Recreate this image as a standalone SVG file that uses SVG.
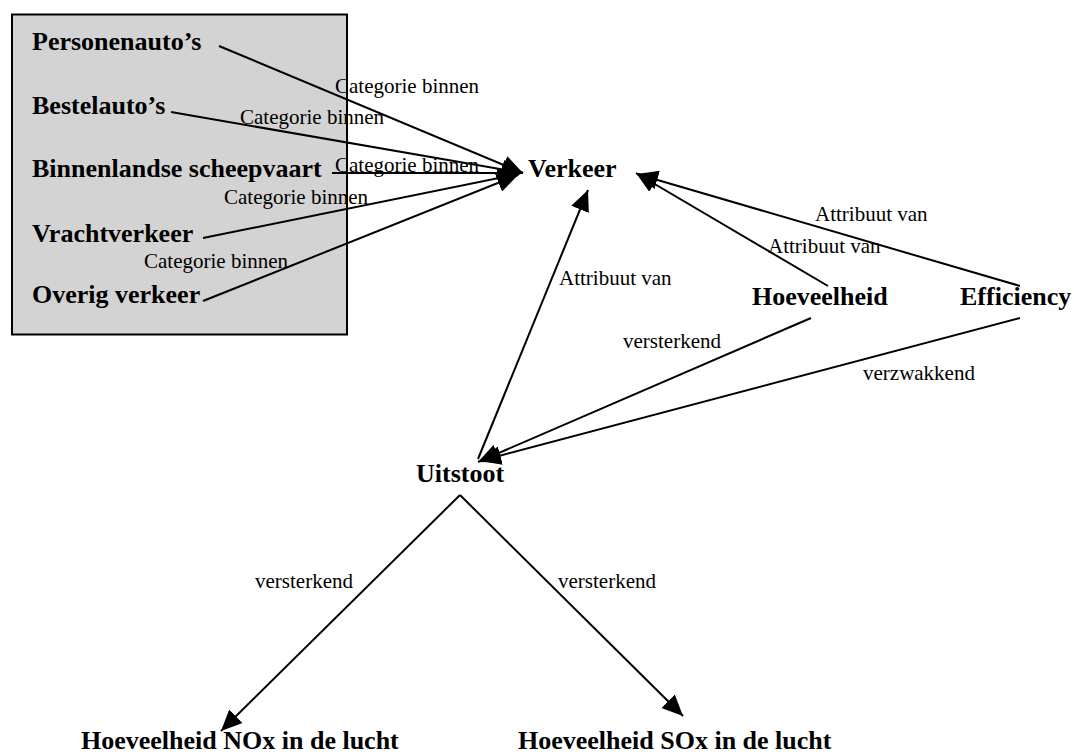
<svg xmlns="http://www.w3.org/2000/svg" width="1074" height="755" viewBox="0 0 1074 755">
  <style>
    .node { font-family: "Liberation Serif", "Times New Roman", serif; font-size: 26px; font-weight: bold; fill: #000; }
    .lbl { font-family: "Liberation Serif", "Times New Roman", serif; font-size: 21px; fill: #000; }
    .edge { stroke: #000; stroke-width: 2; fill: none; marker-end: url(#arrow); }
  </style>
  <defs>
    <marker id="arrow" markerUnits="userSpaceOnUse" markerWidth="21" markerHeight="19" refX="21" refY="9.5" orient="auto">
      <path d="M0,0 L21,9.5 L0,19 z" fill="#000"/>
    </marker>
  </defs>

  <rect width="1074" height="755" fill="#fff"/>

  <!-- grouping box for the traffic categories -->
  <g id="categories-box">
    <rect x="12" y="14.5" width="335" height="320" fill="#d3d3d3" stroke="#000" stroke-width="2"/>
  </g>

  <g id="personenautos"><text class="node" x="32" y="50">Personenauto’s</text></g>
  <g id="bestelautos"><text class="node" x="32" y="114">Bestelauto’s</text></g>
  <g id="binnenlandse-scheepvaart"><text class="node" x="32" y="177">Binnenlandse scheepvaart</text></g>
  <g id="vrachtverkeer"><text class="node" x="32" y="242">Vrachtverkeer</text></g>
  <g id="overig-verkeer"><text class="node" x="32" y="303">Overig verkeer</text></g>

  <g id="verkeer"><text class="node" x="528" y="177">Verkeer</text></g>
  <g id="hoeveelheid"><text class="node" x="752" y="305">Hoeveelheid</text></g>
  <g id="efficiency"><text class="node" x="960" y="305">Efficiency</text></g>
  <g id="uitstoot"><text class="node" x="416" y="482">Uitstoot</text></g>
  <g id="nox"><text class="node" x="81" y="749">Hoeveelheid NOx in de lucht</text></g>
  <g id="sox"><text class="node" x="518" y="749">Hoeveelheid SOx in de lucht</text></g>

  <g id="connectors">
    <!-- categories into Verkeer -->
    <line class="edge" x1="219" y1="46" x2="523" y2="173"/>
    <line class="edge" x1="171" y1="112" x2="523" y2="173"/>
    <line class="edge" x1="332" y1="173" x2="523" y2="173"/>
    <line class="edge" x1="203" y1="238" x2="519" y2="174"/>
    <line class="edge" x1="203" y1="301" x2="518" y2="175"/>
    <text class="lbl" x="335" y="93">Categorie binnen</text>
    <text class="lbl" x="240" y="124">Categorie binnen</text>
    <text class="lbl" x="335" y="172">Categorie binnen</text>
    <text class="lbl" x="224" y="204">Categorie binnen</text>
    <text class="lbl" x="144" y="268">Categorie binnen</text>

    <!-- attributes of Verkeer -->
    <line class="edge" x1="828" y1="286" x2="636" y2="173"/>
    <line class="edge" x1="1020" y1="286" x2="637" y2="174"/>
    <line class="edge" x1="478" y1="459" x2="588" y2="190"/>
    <text class="lbl" x="815" y="221">Attribuut van</text>
    <text class="lbl" x="768" y="253">Attribuut van</text>
    <text class="lbl" x="559" y="285">Attribuut van</text>

    <!-- influences on Uitstoot -->
    <line class="edge" x1="811" y1="318" x2="478" y2="462"/>
    <line class="edge" x1="1020" y1="318" x2="480" y2="461"/>
    <text class="lbl" x="623" y="348">versterkend</text>
    <text class="lbl" x="863" y="380">verzwakkend</text>

    <!-- Uitstoot effects -->
    <line class="edge" x1="460" y1="495" x2="221" y2="731"/>
    <line class="edge" x1="460" y1="495" x2="683" y2="716"/>
    <text class="lbl" x="255" y="588">versterkend</text>
    <text class="lbl" x="558" y="588">versterkend</text>
  </g>
</svg>
